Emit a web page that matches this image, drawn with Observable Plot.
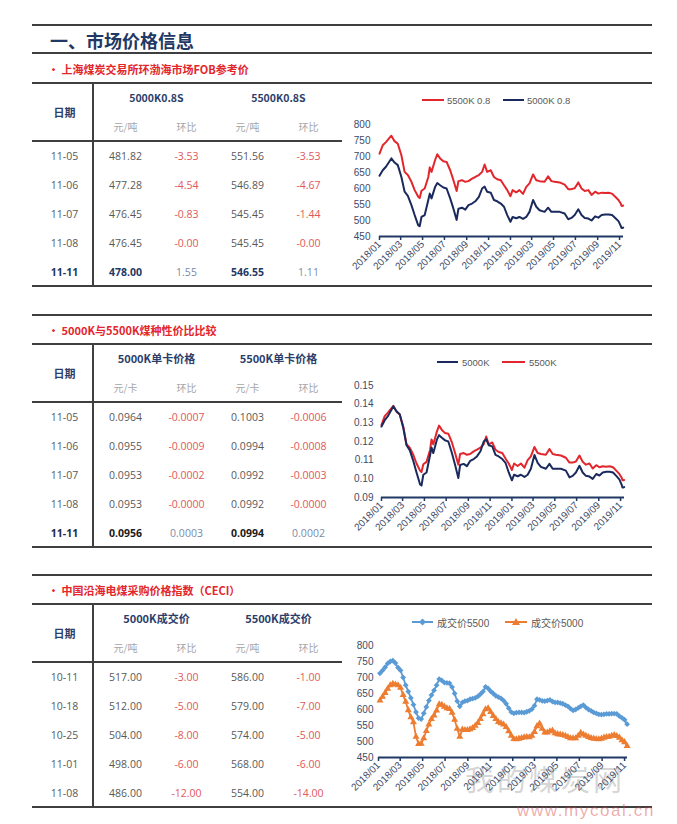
<!DOCTYPE html>
<html><head><meta charset="utf-8">
<script src="https://cdn.jsdelivr.net/npm/d3@7"></script>
<script src="https://cdn.jsdelivr.net/npm/@observablehq/plot@0.6"></script>
<style>
html,body{margin:0;padding:0;background:#fff;}
#page{position:relative;width:677px;height:824px;overflow:hidden;background:#fff;}
.hr{position:absolute;background:#3f3f3f;}
.t{position:absolute;white-space:nowrap;}
.plotbox{position:absolute;}
</style></head>
<body><div id="page"></div>
<script>
// ---------- DATA ----------
const xTickLabels = ["2018/01","2018/03","2018/05","2018/07","2018/09","2018/11","2019/01","2019/03","2019/05","2019/07","2019/09","2019/11"];

// Chart 1: 环渤海市场FOB参考价 (元/吨)
const fobDates = ["2018-01-01","2018-01-10","2018-01-19","2018-02-03","2018-02-12","2018-02-21","2018-03-03","2018-03-12","2018-03-21","2018-03-31",
"2018-04-09","2018-04-19","2018-04-23","2018-04-28","2018-05-07","2018-05-17","2018-05-21","2018-05-26","2018-06-05","2018-06-11",
"2018-06-19","2018-06-28","2018-07-07","2018-07-17","2018-07-26","2018-08-04","2018-08-09","2018-08-19","2018-08-28","2018-09-06",
"2018-09-16","2018-09-25","2018-10-05","2018-10-14","2018-10-21","2018-10-28","2018-11-07","2018-11-16","2018-11-25","2018-12-05",
"2018-12-14","2018-12-23","2019-01-01","2019-01-07","2019-01-17","2019-01-26","2019-02-05","2019-02-14","2019-02-23","2019-03-05",
"2019-03-14","2019-03-23","2019-04-06","2019-04-16","2019-04-25","2019-05-04","2019-05-18","2019-06-01","2019-06-11","2019-06-20",
"2019-06-29","2019-07-09","2019-07-18","2019-07-27","2019-08-06","2019-08-15","2019-08-25","2019-09-03","2019-09-12","2019-09-22",
"2019-10-01","2019-10-11","2019-10-20","2019-10-29","2019-11-05","2019-11-06","2019-11-07","2019-11-08","2019-11-11"];
const fob5500 = [709,735,745,765,748,740,704,652,642,621,
595,574,570,593,600,636,666,652,689,707,
694,685,683,657,626,592,623,626,621,623,
631,636,642,652,675,652,657,636,629,626,
610,595,576,595,588,595,583,605,616,644,
626,623,621,638,623,621,619,612,598,598,
601,619,600,592,595,580,590,584,587,586,
587,584,574,564,551.56,546.89,545.45,545.45,546.55];
const fob5000 = [640,657,668,694,681,673,636,590,577,548,
517,485,482,511,517,564,584,569,605,617,
610,603,600,569,537,502,537,540,534,548,
553,560,574,600,606,590,587,564,560,553,
543,517,496,511,507,511,505,511,527,564,
543,532,527,540,527,527,527,522,504,508,
517,535,517,508,506,500,513,509,517,519,
519,517,508,498,481.82,477.28,476.45,476.45,478.00];

// Chart 2: 单卡价格 (元/卡), same dates
const ratio5000 = [0.1280,0.1314,0.1336,0.1388,0.1362,0.1346,0.1272,0.1180,0.1154,0.1096,
0.1034,0.0970,0.0964,0.1022,0.1034,0.1128,0.1168,0.1138,0.1210,0.1234,
0.1220,0.1206,0.1200,0.1138,0.1074,0.1004,0.1074,0.1080,0.1068,0.1096,
0.1106,0.1120,0.1148,0.1200,0.1212,0.1180,0.1174,0.1128,0.1120,0.1106,
0.1086,0.1034,0.0992,0.1022,0.1014,0.1022,0.1010,0.1022,0.1054,0.1128,
0.1086,0.1064,0.1054,0.1080,0.1054,0.1054,0.1054,0.1044,0.1008,0.1016,
0.1034,0.1070,0.1034,0.1016,0.1012,0.1000,0.1026,0.1018,0.1034,0.1038,
0.1038,0.1034,0.1016,0.0996,0.0964,0.0955,0.0953,0.0953,0.0956];
const ratio5500 = [0.1289,0.1336,0.1355,0.1391,0.1360,0.1345,0.1280,0.1185,0.1167,0.1129,
0.1082,0.1044,0.1036,0.1078,0.1091,0.1156,0.1211,0.1185,0.1253,0.1285,
0.1262,0.1245,0.1242,0.1195,0.1138,0.1076,0.1133,0.1138,0.1129,0.1133,
0.1147,0.1156,0.1167,0.1185,0.1227,0.1185,0.1195,0.1156,0.1144,0.1138,
0.1109,0.1082,0.1047,0.1082,0.1069,0.1082,0.1060,0.1100,0.1120,0.1171,
0.1138,0.1133,0.1129,0.1160,0.1133,0.1129,0.1125,0.1113,0.1087,0.1087,
0.1093,0.1125,0.1091,0.1076,0.1082,0.1055,0.1073,0.1062,0.1067,0.1065,
0.1067,0.1062,0.1044,0.1025,0.1003,0.0994,0.0992,0.0992,0.0994];

// Chart 3: CECI 成交价 (weekly)
const ceciDates = ["2018-01-05","2018-01-12","2018-01-19","2018-01-26","2018-02-02","2018-02-09","2018-02-16","2018-02-23","2018-03-02","2018-03-09",
"2018-03-16","2018-03-23","2018-03-30","2018-04-06","2018-04-13","2018-04-20","2018-04-27","2018-05-04","2018-05-11","2018-05-18",
"2018-05-25","2018-06-01","2018-06-08","2018-06-15","2018-06-22","2018-06-29","2018-07-06","2018-07-13","2018-07-20","2018-07-27",
"2018-08-03","2018-08-10","2018-08-17","2018-08-24","2018-08-31","2018-09-07","2018-09-14","2018-09-21","2018-09-28","2018-10-05",
"2018-10-12","2018-10-19","2018-10-26","2018-11-02","2018-11-09","2018-11-16","2018-11-23","2018-11-30","2018-12-07","2018-12-14",
"2018-12-21","2018-12-28","2019-01-04","2019-01-11","2019-01-18","2019-01-25","2019-02-01","2019-02-08","2019-02-15","2019-02-22",
"2019-03-01","2019-03-08","2019-03-15","2019-03-22","2019-03-29","2019-04-05","2019-04-12","2019-04-19","2019-04-26","2019-05-03",
"2019-05-10","2019-05-17","2019-05-24","2019-05-31","2019-06-07","2019-06-14","2019-06-21","2019-06-28","2019-07-05","2019-07-12",
"2019-07-19","2019-07-26","2019-08-02","2019-08-09","2019-08-16","2019-08-23","2019-08-30","2019-09-06","2019-09-13","2019-09-20",
"2019-09-27","2019-10-04","2019-10-11","2019-10-18","2019-10-25","2019-11-01","2019-11-08"];
const ceci5500 = [713,722,732,744,750,753,745,731,722,700,
676,656,636,615,592,573,570,588,608,628,
645,660,676,695,691,684,683,682,670,650,
626,610,622,626,628,632,634,636,641,648,
656,671,666,657,650,643,639,635,628,618,
604,592,588,590,591,591,590,593,596,601,
612,632,630,627,626,628,630,625,622,622,
620,618,614,610,603,597,600,605,610,614,
606,600,596,591,588,585,584,585,586,586,
587,587,586,579,574,568,554];
const ceci5000 = [628,640,652,665,676,680,678,676,668,645,
624,598,576,560,515,492,493,510,533,553,
570,581,597,616,615,609,604,602,590,568,
540,515,537,536,536,538,542,549,558,570,
585,601,604,592,580,570,561,557,553,545,
532,518,508,507,509,511,513,514,513,518,
530,548,556,540,528,528,532,534,526,523,
522,520,518,514,510,510,510,518,527,522,
518,514,511,509,508,507,509,512,514,515,
518,520,517,512,504,498,486];

// Tables
const t1Dates = ["11-05","11-06","11-07","11-08","11-11"];
const t1P5000 = ["481.82","477.28","476.45","476.45","478.00"];
const t1C5000 = ["-3.53","-4.54","-0.83","-0.00","1.55"];
const t1P5500 = ["551.56","546.89","545.45","545.45","546.55"];
const t1C5500 = ["-3.53","-4.67","-1.44","-0.00","1.11"];

const t2Dates = ["11-05","11-06","11-07","11-08","11-11"];
const t2P5000 = ["0.0964","0.0955","0.0953","0.0953","0.0956"];
const t2C5000 = ["-0.0007","-0.0009","-0.0002","-0.0000","0.0003"];
const t2P5500 = ["0.1003","0.0994","0.0992","0.0992","0.0994"];
const t2C5500 = ["-0.0006","-0.0008","-0.0003","-0.0000","0.0002"];

const t3Dates = ["10-11","10-18","10-25","11-01","11-08"];
const t3P5000 = ["517.00","512.00","504.00","498.00","486.00"];
const t3C5000 = ["-3.00","-5.00","-8.00","-6.00","-12.00"];
const t3P5500 = ["586.00","579.00","574.00","568.00","554.00"];
const t3C5500 = ["-1.00","-7.00","-5.00","-6.00","-14.00"];

const yTicksPrice = [450,500,550,600,650,700,750,800];
const yTicksRatio = [0.09,0.10,0.11,0.12,0.13,0.14,0.15];

// ---------- LAYOUT HELPERS ----------
const page = document.getElementById("page");
const CJK = '"Noto Sans CJK SC", sans-serif';
const NUM = '"Open Sans", "Noto Sans CJK SC", sans-serif';
const AX = '"Liberation Sans", Arial, "Noto Sans CJK SC", sans-serif';
const parseDay = d3.utcParse("%Y-%m-%d");
const xTickDates = xTickLabels.map(d3.utcParse("%Y/%m"));

function rule(x1, y, x2, h = 2) {
  const d = document.createElement("div");
  d.className = "hr";
  d.style.left = x1 + "px"; d.style.top = (y - h / 2) + "px";
  d.style.width = (x2 - x1) + "px"; d.style.height = h + "px";
  page.appendChild(d);
}
function vrule(x, y1, y2, w = 2) {
  const d = document.createElement("div");
  d.className = "hr";
  d.style.left = (x - w / 2) + "px"; d.style.top = y1 + "px";
  d.style.width = w + "px"; d.style.height = (y2 - y1) + "px";
  page.appendChild(d);
}
function text(str, x, cy, css, lh = 24) {
  const d = document.createElement("div");
  d.className = "t";
  d.textContent = str;
  d.style.left = x + "px"; d.style.top = (cy - lh / 2) + "px";
  d.style.lineHeight = lh + "px"; d.style.height = lh + "px";
  Object.assign(d.style, css);
  page.appendChild(d);
  return d;
}
function place(node, left, top) {
  const w = document.createElement("div");
  w.className = "plotbox";
  w.style.left = left + "px"; w.style.top = top + "px";
  w.appendChild(node);
  page.appendChild(w);
}

// ---------- TABLE ----------
const cols = ["date", "p1", "c1", "p2", "c2"];
function table(T, spec) {
  const n = spec.dates.length;
  const cells = [], boldCells = [];
  spec.dates.forEach((d, i) => {
    const last = spec.boldLast && i === n - 1;
    (last ? boldCells : cells).push({col: "date", row: d, text: d, fill: last ? spec.boldDate : "#595959"});
    [["p1", spec.p1], ["c1", spec.c1], ["p2", spec.p2], ["c2", spec.c2]].forEach(([c, arr]) => {
      const t = arr[i];
      if (c[0] === "c") {
        cells.push({col: c, row: d, text: t, fill: t.startsWith("-") ? "#E0585B" : "#7D8AA8"});
      } else {
        (last ? boldCells : cells).push({col: c, row: d, text: t, fill: last ? spec.boldVal : "#595959"});
      }
    });
  });
  const groups = [{col: "p1", text: spec.g1}, {col: "p2", text: spec.g2}];
  const units = [{col: "p1", text: spec.unit}, {col: "c1", text: "环比"}, {col: "p2", text: spec.unit}, {col: "c2", text: "环比"}];
  const svg = Plot.plot({
    width: 310, height: 204, margin: 0,
    style: {background: "transparent", overflow: "visible"},
    x: {type: "point", domain: cols, range: [30.5, 277.5], padding: 0, axis: null},
    y: {type: "point", domain: ["g", "u"].concat(spec.dates), range: [14, 189], padding: 0, axis: null},
    color: {type: "identity"},
    marks: [
      Plot.text([{col: "date", text: "日期"}], {x: "col", y: () => "g", dy: 14.5, text: "text", fill: "#2B3E6B", fontWeight: "bold", fontSize: 11, fontFamily: CJK}),
      Plot.text(groups, {x: "col", y: () => "g", dx: 30.9, text: "text", fill: "#2B3E6B", fontWeight: "bold", fontSize: spec.gSize, fontFamily: CJK}),
      Plot.text(units, {x: "col", y: () => "u", text: "text", fill: "#A6A6A6", fontSize: 10, fontFamily: CJK}),
      Plot.text(cells, {x: "col", y: "row", text: "text", fill: "fill", fontSize: 10.5, fontFamily: NUM}),
      Plot.text(boldCells, {x: "col", y: "row", text: "text", fill: "fill", fontSize: 10.5, fontWeight: "bold", fontFamily: NUM})
    ]
  });
  place(svg, 32, T);
}

// ---------- LINE CHART ----------
function lineChart(T, cfg) {
  const marks = [
    Plot.axisY({ticks: cfg.yTicks, tickSize: 0, tickPadding: cfg.pad, tickFormat: cfg.yFormat, label: null, fill: "#3E4A68", fontSize: 10, fontFamily: AX}),
    Plot.axisX({ticks: xTickDates, tickFormat: d3.utcFormat("%Y/%m"), tickRotate: -45, tickSize: 4, tickPadding: 2, label: null, stroke: "#1F3864", strokeWidth: 1.5, fill: "#3E4A68", fontSize: 10, fontFamily: AX}),
    Plot.ruleY([cfg.yTicks[0]], {stroke: "#1F3864", strokeWidth: 2})
  ];
  cfg.series.forEach(s => {
    const rows = cfg.dates.map((d, i) => ({date: parseDay(d), v: s.values[i]}));
    marks.push(Plot.line(rows, {x: "date", y: "v", stroke: s.color, strokeWidth: s.width}));
    if (s.symbol) marks.push(Plot.dot(rows, {x: "date", y: "v", symbol: s.symbol, fill: s.color, r: s.r, stroke: "none"}));
  });
  const svg = Plot.plot({
    width: 312, height: 170,
    marginTop: 11, marginBottom: 47, marginLeft: cfg.ml, marginRight: cfg.mr,
    style: {background: "transparent", overflow: "visible"},
    x: {type: "utc", domain: [parseDay("2018-01-01"), parseDay(cfg.end)]},
    y: {domain: [cfg.yTicks[0], cfg.yTicks[cfg.yTicks.length - 1]]},
    marks
  });
  place(svg, 340, T + 30);
}

function legend(cy, items, fontSize) {
  items.forEach(it => {
    const d = document.createElement("div");
    d.className = "t";
    d.style.left = it.x + "px"; d.style.top = (cy - 8) + "px";
    d.style.height = "16px"; d.style.display = "flex"; d.style.alignItems = "center";
    let marker = "";
    const m = it.w / 2;
    if (it.marker === "diamond") marker = `<polygon points="${m},1.5 ${m + 3.5},5 ${m},8.5 ${m - 3.5},5" fill="${it.color}"/>`;
    if (it.marker === "triangle") marker = `<polygon points="${m},1 ${m + 4},8 ${m - 4},8" fill="${it.color}"/>`;
    d.innerHTML = `<svg width="${it.w}" height="10" style="display:block"><line x1="0" y1="5" x2="${it.w}" y2="5" stroke="${it.color}" stroke-width="2"/>${marker}</svg>` +
      `<span style="margin-left:${it.gap}px;font-family:${AX.replace(/"/g, "'")};font-size:${fontSize}px;color:#595959;">${it.label}</span>`;
    page.appendChild(d);
  });
}

// ---------- PAGE ----------
rule(32, 25, 652);
text("一、市场价格信息", 50, 40, {fontFamily: CJK, fontWeight: "bold", fontSize: "18px", color: "#1F3864"});
rule(32, 53, 652);

const sections = [
  {T: 83, sub: "• 上海煤炭交易所环渤海市场FOB参考价"},
  {T: 344, sub: "• 5000K与5500K煤种性价比比较", head: 315},
  {T: 604, sub: "• 中国沿海电煤采购价格指数（CECI）", head: 575}
];
sections.forEach(s => {
  if (s.head) rule(32, s.head, 652);
  text(s.sub, 48, s.T - 14, {fontFamily: CJK, fontWeight: "bold", fontSize: "11px", color: "#E3262C"});
  rule(32, s.T, 652);
  rule(32, s.T + 58, 342, 1.6);
  rule(32, s.T + 203, 652);
  vrule(93, s.T, s.T + 203, 1.6);
});

table(83, {dates: t1Dates, p1: t1P5000, c1: t1C5000, p2: t1P5500, c2: t1C5500,
  g1: "5000K0.8S", g2: "5500K0.8S", gSize: 10.5, unit: "元/吨", boldLast: true, boldDate: "#1F3864", boldVal: "#1F3864"});
table(344, {dates: t2Dates, p1: t2P5000, c1: t2C5000, p2: t2P5500, c2: t2C5500,
  g1: "5000K单卡价格", g2: "5500K单卡价格", gSize: 11, unit: "元/卡", boldLast: true, boldDate: "#1E2A48", boldVal: "#1a1a1a"});
table(604, {dates: t3Dates, p1: t3P5000, c1: t3C5000, p2: t3P5500, c2: t3C5500,
  g1: "5000K成交价", g2: "5500K成交价", gSize: 11, unit: "元/吨", boldLast: false});

lineChart(83, {dates: fobDates, yTicks: yTicksPrice, yFormat: d => String(d), pad: 9, ml: 39, mr: 29, end: "2019-11-12",
  series: [{values: fob5500, color: "#E3262C", width: 2}, {values: fob5000, color: "#1B2A5C", width: 2}]});
legend(100, [
  {x: 422, w: 22, gap: 3, color: "#E3262C", label: "5500K 0.8"},
  {x: 503, w: 21, gap: 3, color: "#1B2A5C", label: "5000K 0.8"}
], 9.5);

lineChart(344, {dates: fobDates, yTicks: yTicksRatio, yFormat: d3.format(".2f"), pad: 8, ml: 41, mr: 28, end: "2019-11-12",
  series: [{values: ratio5500, color: "#E3262C", width: 2}, {values: ratio5000, color: "#1B2A5C", width: 2}]});
legend(362, [
  {x: 437, w: 21, gap: 4, color: "#1B2A5C", label: "5000K"},
  {x: 502, w: 23, gap: 4, color: "#E3262C", label: "5500K"}
], 9.5);

lineChart(604, {dates: ceciDates, yTicks: yTicksPrice, yFormat: d => String(d), pad: 5, ml: 38, mr: 25, end: "2019-11-09",
  series: [{values: ceci5500, color: "#5B9BD5", width: 1.8, symbol: "diamond2", r: 2.6},
           {values: ceci5000, color: "#ED7D31", width: 1.8, symbol: "triangle", r: 2.6}]});
legend(622, [
  {x: 412, w: 21, gap: 4, color: "#5B9BD5", marker: "diamond", label: "成交价5500"},
  {x: 505, w: 22, gap: 4, color: "#ED7D31", marker: "triangle", label: "成交价5000"}
], 10);

// watermark
text("我的煤炭网", 465, 778, {fontFamily: CJK, fontSize: "29px", color: "rgba(110,110,110,0.30)", letterSpacing: "3px"}, 28);
text("www.mycoal.cn", 517, 811, {fontFamily: AX, fontSize: "17px", color: "rgba(215,70,70,0.45)", letterSpacing: "1.6px"}, 16);
</script></body></html>
